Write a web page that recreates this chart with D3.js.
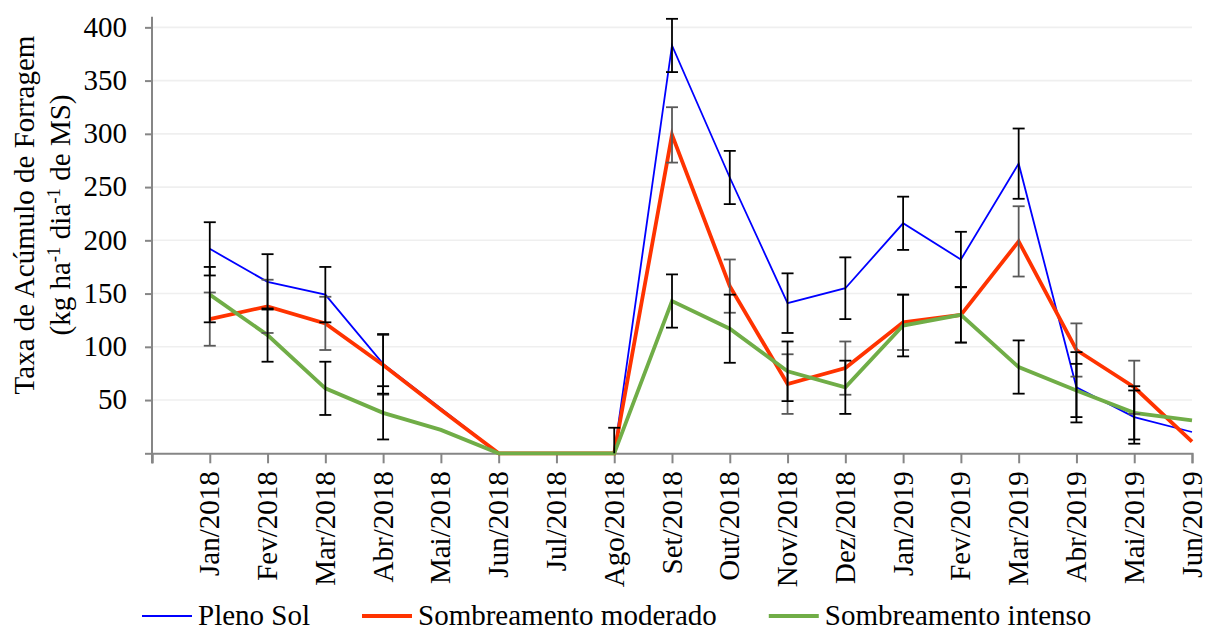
<!DOCTYPE html>
<html>
<head>
<meta charset="utf-8">
<script src="https://cdn.jsdelivr.net/npm/d3@7"></script>
<style>
  html, body { margin: 0; padding: 0; background: #fff; }
  svg { display: block; }
  svg text { font-family: "Liberation Serif", "Times New Roman", Times, serif !important; fill: #000; }
</style>
</head>
<body>
<svg id="chart" width="1206" height="630"></svg>
<script>
const months = ["Jan/2018","Fev/2018","Mar/2018","Abr/2018","Mai/2018","Jun/2018","Jul/2018","Ago/2018","Set/2018","Out/2018","Nov/2018","Dez/2018","Jan/2019","Fev/2019","Mar/2019","Abr/2019","Mai/2019","Jun/2019"];
const plenoSol  = [192, 161, 149, 84, 42, 0, 0, 0, 383, 259, 141, 155, 216, 182, 272, 62, 34, 20];
const moderado  = [126, 138, 122, 83, 41, 0, 0, 0, 299, 157, 65, 80, 123, 130, 199, 97, 62, 11];
const intenso   = [149, 111, 61, 38, 22, 0, 0, 0, 143, 117, 77, 62, 120, 130, 81, 59, 38, 31];
const errPleno    = [25, 26, 26, 28, 0, 0, 0, 24, 25, 25, 28, 29, 25, 26, 33, 33, 25, 0];
const errModerado = [25, 25, 25, 28, 0, 0, 0, 0, 26, 25, 28, 25, 26, 26, 33, 25, 25, 0];
const errIntenso  = [26, 25, 25, 25, 0, 0, 0, 0, 25, 32, 28, 25, 29, 26, 25, 25, 25, 0];
const yTicks = [0, 50, 100, 150, 200, 250, 300, 350, 400];
const seriesNames = ["Pleno Sol", "Sombreamento moderado", "Sombreamento intenso"];

const series = [
  { name: seriesNames[0], values: plenoSol, err: errPleno, color: "#0000FF", width: 1.8, errColor: "#000000" },
  { name: seriesNames[1], values: moderado, err: errModerado, color: "#FF3300", width: 3.8, errColor: "#595959" },
  { name: seriesNames[2], values: intenso, err: errIntenso, color: "#70AD47", width: 3.8, errColor: "#000000" }
];

const FONT = '"Liberation Serif", "Times New Roman", Times, serif';
const svg = d3.select("#chart");
const FS = 29;
const x = d3.scaleLinear().domain([0, months.length]).range([152, 1192]);
const y = d3.scaleLinear().domain([0, 410]).range([453.3, 16.7]);

// gridlines
svg.append("g").selectAll("line").data(yTicks.filter(d => d > 0)).join("line")
  .attr("x1", x(0)).attr("x2", x(months.length))
  .attr("y1", d => y(d)).attr("y2", d => y(d))
  .attr("stroke", "#EFEFEF").attr("stroke-width", 1.6);

// y axis
const yAxis = d3.axisLeft(y).tickValues(yTicks).tickSize(7).tickFormat(d => d === 0 ? "" : d);
const gy = svg.append("g").attr("transform", `translate(${x(0)},0)`).call(yAxis)
  .attr("font-family", FONT);
gy.select(".domain").attr("stroke", "#868686").attr("stroke-width", 2)
  .attr("d", `M-0,${y(410)}V${y(0) + 10}`);
gy.selectAll(".tick line").attr("stroke", "#868686").attr("stroke-width", 2);
gy.selectAll(".tick text").attr("font-size", FS).style("font-family", FONT)
  .attr("x", -25).attr("dy", "0.3em").attr("fill", "#000");

// x axis
const xAxis = d3.axisBottom(x).tickValues(d3.range(0, months.length + 1)).tickSize(10)
  .tickFormat(i => (i >= 1 ? months[i - 1] : ""));
const gx = svg.append("g").attr("transform", `translate(0,${y(0)})`).call(xAxis)
  .attr("font-family", FONT);
gx.select(".domain").attr("stroke", "#868686").attr("stroke-width", 2);
gx.selectAll(".tick line").attr("stroke", "#868686").attr("stroke-width", 2);
gx.selectAll(".tick text").attr("font-size", FS).style("font-family", FONT)
  .attr("fill", "#000")
  .attr("transform", "rotate(-90)")
  .attr("text-anchor", "end")
  .attr("x", -18).attr("y", 0).attr("dy", "0.31em");

// lines
const line = d3.line().x((d, i) => x(i + 1)).y(d => y(d));
series.forEach(s => {
  svg.append("path").datum(s.values)
    .attr("fill", "none").attr("stroke", s.color).attr("stroke-width", s.width)
    .attr("stroke-linejoin", "miter").attr("d", line);
});

// error bars (grey under black)
const errOrder = [series[1], series[0], series[2]];
errOrder.forEach(s => {
  const g = svg.append("g").attr("stroke", s.errColor).attr("stroke-width", 1.8);
  s.values.forEach((v, i) => {
    const e = s.err[i];
    if (!e) return;
    const cx = x(i + 1);
    const top = y(v + e);
    const bot = y(Math.max(0, v - e));
    g.append("line").attr("x1", cx).attr("x2", cx).attr("y1", top).attr("y2", bot);
    g.append("line").attr("x1", cx - 6).attr("x2", cx + 6).attr("y1", top).attr("y2", top);
    if (v - e > 0) g.append("line").attr("x1", cx - 6).attr("x2", cx + 6).attr("y1", bot).attr("y2", bot);
  });
});

// y axis title
const title = svg.append("g").attr("transform", "translate(0,215) rotate(-90)");
title.append("text").attr("x", 0).attr("y", 34).attr("text-anchor", "middle").attr("font-size", FS)
  .style("font-family", FONT).text("Taxa de Acúmulo de Forragem");
const t2 = title.append("text").attr("x", 0).attr("y", 70).attr("text-anchor", "middle").attr("font-size", FS)
  .style("font-family", FONT);
t2.append("tspan").text("(kg ha");
t2.append("tspan").attr("font-size", 19).attr("dy", -10).text("-1");
t2.append("tspan").attr("dy", 10).text(" dia");
t2.append("tspan").attr("font-size", 19).attr("dy", -10).text("-1");
t2.append("tspan").attr("dy", 10).text(" de MS)");

// legend
const legend = svg.append("g");
let lx = 142;
const ly = 616;
series.forEach(s => {
  legend.append("line").attr("x1", lx).attr("x2", lx + 50).attr("y1", ly).attr("y2", ly)
    .attr("stroke", s.color).attr("stroke-width", s.width);
  const t = legend.append("text").attr("x", lx + 56).attr("y", ly + 9).attr("font-size", FS)
    .style("font-family", FONT).text(s.name);
  lx = lx + 56 + t.node().getComputedTextLength() + 52;
});
</script>
</body>
</html>
